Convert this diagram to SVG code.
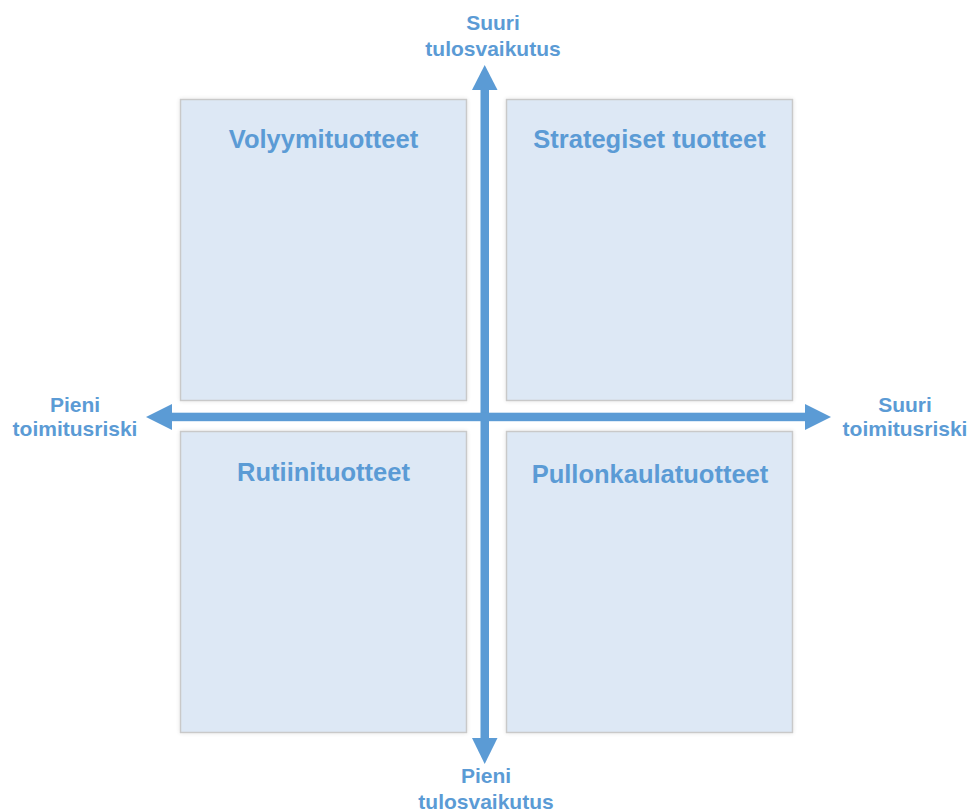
<svg xmlns="http://www.w3.org/2000/svg" width="972" height="812" viewBox="0 0 972 812">
  <style>
    .quad { fill: #dde8f5; stroke: #c9c9c9; stroke-width: 1.5; }
    .title { font-family: "Liberation Sans", Arial, sans-serif; font-weight: bold; font-size: 25.5px; fill: #5b9bd5; text-anchor: middle; }
    .axis-label { font-family: "Liberation Sans", Arial, sans-serif; font-weight: bold; font-size: 21px; fill: #5b9bd5; text-anchor: middle; }
    .axis { fill: #5b9bd5; }
  </style>
  <defs>
    <filter id="soft" x="-5%" y="-5%" width="110%" height="110%">
      <feGaussianBlur in="SourceAlpha" stdDeviation="2"/>
      <feComponentTransfer><feFuncA type="linear" slope="0.12"/></feComponentTransfer>
      <feMerge><feMergeNode/><feMergeNode in="SourceGraphic"/></feMerge>
    </filter>
  </defs>
  <rect width="972" height="812" fill="#ffffff"/>

  <!-- quadrants -->
  <g id="volyymituotteet">
    <rect class="quad" x="180.5" y="99.5" width="286" height="301" filter="url(#soft)"/>
    <text class="title" x="323.5" y="148">Volyymituotteet</text>
  </g>
  <g id="strategiset-tuotteet">
    <rect class="quad" x="506.5" y="99.5" width="286" height="301" filter="url(#soft)"/>
    <text class="title" x="649.5" y="148">Strategiset tuotteet</text>
  </g>
  <g id="rutiinituotteet">
    <rect class="quad" x="180.5" y="431.5" width="286" height="301" filter="url(#soft)"/>
    <text class="title" x="323.5" y="481">Rutiinituotteet</text>
  </g>
  <g id="pullonkaulatuotteet">
    <rect class="quad" x="506.5" y="431.5" width="286" height="301" filter="url(#soft)"/>
    <text class="title" x="650" y="483">Pullonkaulatuotteet</text>
  </g>

  <!-- axes -->
  <g id="connectors">
    <!-- vertical: tulosvaikutus -->
    <rect class="axis" x="480.5" y="88" width="8.5" height="652"/>
    <polygon class="axis" points="484.7,65 497.5,90 472,90"/>
    <polygon class="axis" points="484.7,764 497.5,738 472,738"/>
    <!-- horizontal: toimitusriski -->
    <rect class="axis" x="170" y="412.7" width="637" height="8.5"/>
    <polygon class="axis" points="146,417 172,404 172,430"/>
    <polygon class="axis" points="831,417 805,404 805,430"/>
  </g>

  <!-- axis labels -->
  <g id="label-top">
    <text class="axis-label" x="493" y="30">Suuri</text>
    <text class="axis-label" x="493" y="56">tulosvaikutus</text>
  </g>
  <g id="label-bottom">
    <text class="axis-label" x="486" y="783">Pieni</text>
    <text class="axis-label" x="486" y="809">tulosvaikutus</text>
  </g>
  <g id="label-left">
    <text class="axis-label" x="75" y="412">Pieni</text>
    <text class="axis-label" x="75" y="436">toimitusriski</text>
  </g>
  <g id="label-right">
    <text class="axis-label" x="905" y="412">Suuri</text>
    <text class="axis-label" x="905" y="436">toimitusriski</text>
  </g>
</svg>
